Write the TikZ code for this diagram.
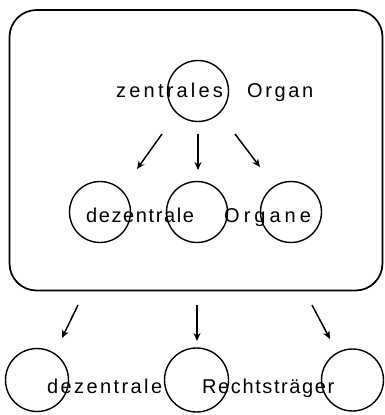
\documentclass[tikz,border=0pt]{standalone}
\usepackage{fontspec}
\setmainfont{Liberation Sans}
\usetikzlibrary{arrows.meta}
\begin{document}
\begin{tikzpicture}[x=1pt,y=-1pt,
  ring/.style={draw,circle,line width=1.4pt,inner sep=0pt,minimum size=61pt},
  word/.style={anchor=base west,inner sep=0pt,font=\fontsize{20}{24}\selectfont},
  arr/.style={line width=1.5pt,-{Stealth[length=8pt,width=7pt]}}]
\useasboundingbox (0,0) rectangle (384,415);
% frame
\node[draw,line width=1.7pt,rounded corners=27pt,minimum width=373pt,minimum height=280.5pt,inner sep=0pt] (frame) at (196,150.25) {};
% circles
\node[ring] (c0) at (198,91) {};
\node[ring] (m1) at (100,212) {};
\node[ring] (m2) at (197,212) {};
\node[ring] (m3) at (291,212) {};
\node[ring,minimum size=63pt] (b1) at (37,380) {};
\node[ring,minimum size=64pt] (b2) at (196.5,380) {};
\node[ring,minimum size=62pt] (b3) at (352.5,380) {};
% texts
\node[word] (t1) at (116,97) {\addfontfeature{LetterSpace=16}zentrales};
\node[word] (t2) at (247,97) {\addfontfeature{LetterSpace=13}Organ};
\node[word] (t3) at (86,222) {\addfontfeature{LetterSpace=8}dezentrale};
\node[word] (t4) at (224,222) {\addfontfeature{LetterSpace=20}Organe};
\node[word] (t5) at (47,393) {\addfontfeature{LetterSpace=12}dezentrale};
\node[word] (t6) at (202,393) {\addfontfeature{LetterSpace=8}Rechtsträger};
% arrow end points
\coordinate (a1s) at (162,134); \coordinate (a1e) at (137,169);
\coordinate (a2s) at (198,134); \coordinate (a2e) at (198,170);
\coordinate (a3s) at (235,134); \coordinate (a3e) at (260,167);
\coordinate (a4s) at (78,305);  \coordinate (a4e) at (62,338);
\coordinate (a5s) at (197,305); \coordinate (a5e) at (197,341);
\coordinate (a6s) at (312,305); \coordinate (a6e) at (330,339);
\draw[arr] (a1s) -- (a1e);
\draw[arr] (a2s) -- (a2e);
\draw[arr] (a3s) -- (a3e);
\draw[arr] (a4s) -- (a4e);
\draw[arr] (a5s) -- (a5e);
\draw[arr] (a6s) -- (a6e);
\end{tikzpicture}
\end{document}
